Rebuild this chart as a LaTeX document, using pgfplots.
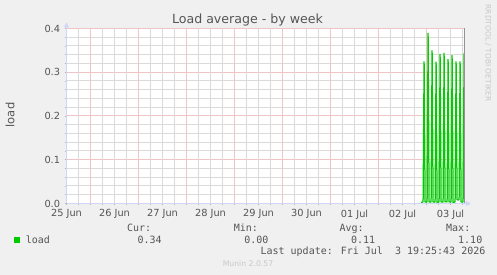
\documentclass[border=0pt]{standalone}
\usepackage{pgfplots}
\pgfplotsset{compat=1.18}
\usepackage{fontspec}
\setmainfont{DejaVu Sans}
\newfontfamily\mono{DejaVu Sans Mono}
\usetikzlibrary{arrows.meta}
\definecolor{bgcol}{HTML}{F0F0F0}
\definecolor{axcol}{HTML}{CFD6F8}
\definecolor{fontcol}{HTML}{555555}
\definecolor{mingrid}{HTML}{DADADA}
\definecolor{majgrid}{HTML}{F0C4C4}
\definecolor{tickcol}{HTML}{B8B8B8}
\definecolor{loadgreen}{HTML}{00CC00}
\definecolor{wmark}{HTML}{C8C8C8}
\tikzset{gridline/.style={line width=1pt}}
\begin{document}
\begin{tikzpicture}[x=1pt,y=1pt]
\fill[bgcol] (0,0) rectangle (497,275);
\begin{axis}[
  at={(66.5pt,71.5pt)}, anchor=south west,
  scale only axis, width=398.4pt, height=175pt,
  xmin=0, xmax=8.3, ymin=0, ymax=0.4,
  axis x line=bottom, axis y line=left,
  axis background/.style={fill=white},
  x axis line style={color=axcol, line width=1pt, -{Triangle[length=5pt,width=5pt]}, shorten >=-6pt},
  y axis line style={color=axcol, line width=1pt, -{Triangle[length=5pt,width=5pt]}, shorten >=-6pt},
  xtick={0,0.25,...,8.25},
  xticklabels={25 Jun,,,,26 Jun,,,,27 Jun,,,,28 Jun,,,,29 Jun,,,,30 Jun,,,,01 Jul,,,,02 Jul,,,,03 Jul,},
  ytick={0,0.1,0.2,0.3,0.4},
  minor ytick={0.02,0.04,...,0.39},
  ymajorgrids=true, yminorgrids=true,
  minor y grid style={mingrid, gridline},
  major y grid style={majgrid, gridline},
  tick align=outside, major tick length=2pt, minor tick length=2pt,
  tick style={tickcol, line width=0.8pt},
  /pgf/number format/assume math mode=true,
  yticklabel style={/pgf/number format/fixed, /pgf/number format/fixed zerofill, /pgf/number format/precision=1, xshift=-4.2pt},
  ticklabel style={font=\fontsize{9.8}{11}\selectfont, text=fontcol, inner sep=0pt},
  xticklabel style={yshift=-4pt},
  clip=true,
]
\pgfplotsinvokeforeach{0.25,0.75,1,1.25,1.75,2,2.25,2.75,3,3.25,3.75,4,4.25,4.75,5,5.25,5.75,6,6.25,6.75,7,7.25,7.75,8,8.25}{
  \draw[mingrid, gridline] (axis cs:#1,0) -- (axis cs:#1,0.4);
}
\pgfplotsinvokeforeach{0.5,1.5,2.5,3.5,4.5,5.5,6.5,7.5}{
  \draw[majgrid, gridline] (axis cs:#1,0) -- (axis cs:#1,0.4);
}
\addplot[loadgreen, line width=1.25pt, sharp plot] coordinates {
(7.3875,0.003) (7.4083,0.003) (7.4292,0.004) (7.4500,0.325)
(7.4708,0.004) (7.4917,0.003) (7.5125,0.004) (7.5333,0.390)
(7.5542,0.004) (7.5750,0.003) (7.5958,0.004) (7.6167,0.350)
(7.6375,0.004) (7.6583,0.003) (7.6792,0.004) (7.7000,0.324)
(7.7208,0.003) (7.7417,0.003) (7.7625,0.004) (7.7833,0.342)
(7.8042,0.004) (7.8250,0.003) (7.8458,0.004) (7.8667,0.344)
(7.8875,0.004) (7.9083,0.004) (7.9292,0.004) (7.9500,0.330)
(7.9708,0.004) (7.9917,0.003) (8.0125,0.004) (8.0333,0.339)
(8.0542,0.003) (8.0750,0.003) (8.0958,0.004) (8.1167,0.325)
(8.1375,0.009) (8.1583,0.008) (8.1792,0.009) (8.2000,0.325)
(8.2208,0.004) (8.2417,0.003) (8.2625,0.004) (8.2833,0.343)
};
\draw[color=gray!85, line width=1pt] (axis cs:8.295,0) -- (axis cs:8.295,0.4);
\end{axis}
% title
\node[anchor=base, inner sep=0pt, text=fontcol, font=\fontsize{12.6}{14}\selectfont] at (247.5,251) {Load average - by week};
% y label
\node[rotate=90, anchor=center, inner sep=0pt, text=fontcol, font=\fontsize{11.5}{13}\selectfont] at (10,160) {load};
% watermark
\node[rotate=-90, anchor=center, inner sep=0pt, text=wmark, font=\fontsize{7.5}{9}\selectfont] at (488,222) {RRDTOOL / TOBI OETIKER};
% legend
\fill[loadgreen] (14,32.3) rectangle (20,38.3);
\begin{scope}[every node/.style={anchor=base west, inner sep=0pt, text=fontcol, font=\mono\fontsize{10}{12}\selectfont}]
\node at (25.7,31.7) {load};
\node at (126.9,43.3) {Cur:};
\node at (137.4,31.7) {0.34};
\node at (233.6,43.3) {Min:};
\node at (244.1,31.7) {0.00};
\node at (339.4,43.3) {Avg:};
\node at (350.8,31.7) {0.11};
\node at (446.0,43.3) {Max:};
\node at (458.0,31.7) {1.10};
\node at (260.4,20) {Last update: Fri Jul\ \ 3 19:25:43 2026};
\end{scope}
\node[anchor=base, inner sep=0pt, text=wmark, font=\fontsize{7.7}{9}\selectfont] at (248,8.3) {Munin 2.0.57};
\end{tikzpicture}
\end{document}
